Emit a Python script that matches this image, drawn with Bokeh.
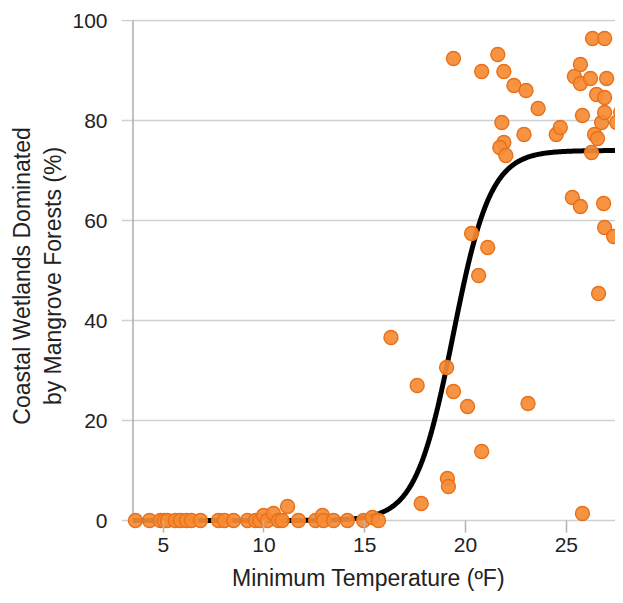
import numpy as np
from bokeh.plotting import figure
from bokeh.models import Range1d, FixedTicker, ColumnDataSource
from bokeh.embed import file_html
from bokeh.resources import INLINE

# ---- data ----
min_temp = [3.62, 4.32, 4.86, 5.05, 5.21, 5.6, 5.86, 6.15, 6.4, 6.85, 7.74, 8.04, 8.49,
            9.18, 9.58, 9.8, 9.98, 10.17, 10.47, 10.72, 10.9, 11.17, 11.71, 12.56, 12.90,
            12.95, 13.45, 14.14, 14.94, 15.38, 15.68,
            16.3, 17.6, 17.8, 19.06, 19.1, 19.15, 19.4, 19.4, 20.1, 20.3, 20.65, 20.8, 20.8,
            21.1, 21.6, 21.8, 21.9, 21.9, 21.7, 22.0, 22.4, 22.9, 23.0, 23.1, 23.6, 24.5,
            24.7, 25.3, 25.4, 25.7, 25.7, 25.7, 25.8, 25.8, 26.2, 26.25, 26.3, 26.4, 26.5,
            26.55, 26.6, 26.75, 26.85, 26.9, 26.9, 26.9, 26.9, 27.0, 27.35, 27.5, 27.7]
mangrove_pct = [0, 0, 0, 0, 0, 0, 0, 0, 0, 0, 0, 0, 0,
                0, 0, 0, 1.0, 0, 1.4, 0, 0, 2.8, 0, 0, 1.0,
                0, 0, 0, 0, 0.6, 0,
                36.6, 27, 3.4, 30.6, 8.4, 6.8, 25.8, 92.4, 22.8, 57.4, 49, 13.8, 89.8,
                54.6, 93.2, 79.6, 89.8, 75.6, 74.6, 73, 87, 77.2, 86, 23.4, 82.4, 77.2,
                78.6, 64.6, 88.8, 62.8, 91.2, 87.4, 81, 1.4, 88.4, 73.6, 96.4, 77.2, 85.2,
                76.4, 45.4, 79.6, 63.4, 96.4, 84.6, 81.6, 58.6, 88.4, 56.8, 79.6, 81.6]

# fitted logistic model parameters
fit_max = 74.0
fit_k = 1.077
fit_x0 = 19.38

x_ticks = [5, 10, 15, 20, 25]
y_ticks = [0, 20, 40, 60, 80, 100]

X_LO, X_HI = 2.93, 27.44
Y_LO, Y_HI = -2.4, 100.2
AXIS_X = 3.5

FONT = "Liberation Sans"

p = figure(width=615, height=595, output_backend="svg", toolbar_location=None,
           x_range=Range1d(X_LO, X_HI), y_range=Range1d(Y_LO, Y_HI),
           min_border_left=121, min_border_right=0, min_border_top=19, min_border_bottom=63)
p.outline_line_color = None
p.background_fill_color = "white"
p.border_fill_color = "white"

# grid
p.xgrid.grid_line_color = None
p.ygrid.grid_line_color = "#d0d0d0"
p.ygrid.grid_line_width = 1.6
p.ygrid.ticker = FixedTicker(ticks=y_ticks)

# x axis
xa = p.xaxis[0]
xa.ticker = FixedTicker(ticks=x_ticks)
xa.axis_line_color = None
xa.major_tick_in = 12
xa.major_tick_out = 0
xa.major_tick_line_color = "#b5b5b5"
xa.major_tick_line_width = 1.6
xa.minor_tick_line_color = None
xa.major_label_standoff = 5
xa.major_label_text_font = FONT
xa.major_label_text_font_size = "21px"
xa.major_label_text_color = "#222222"
xa.axis_label = "Minimum Temperature (ºF)"
xa.axis_label_text_font = FONT
xa.axis_label_text_font_size = "23px"
xa.axis_label_text_font_style = "normal"
xa.axis_label_text_color = "#222222"
xa.axis_label_standoff = 10

# y axis
ya = p.yaxis[0]
ya.ticker = FixedTicker(ticks=y_ticks)
ya.axis_line_color = None
ya.major_tick_line_color = None
ya.major_tick_out = 0
ya.major_tick_in = 0
ya.minor_tick_line_color = None
ya.major_label_standoff = 14
ya.major_label_text_font = FONT
ya.major_label_text_font_size = "21px"
ya.major_label_text_color = "#222222"
ya.axis_label = "Coastal Wetlands Dominated\nby Mangrove Forests (%)"
ya.axis_label_text_font = FONT
ya.axis_label_text_font_size = "23px"
ya.axis_label_text_font_style = "normal"
ya.axis_label_text_color = "#222222"
ya.axis_label_standoff = 3

# own y-axis line from 0 to 100
p.segment(x0=[AXIS_X], y0=[y_ticks[0]], x1=[AXIS_X], y1=[y_ticks[-1]],
          line_color="#b0b0b0", line_width=1.6)

# fitted curve
xs = np.linspace(AXIS_X, X_HI, 400)
ys = fit_max / (1.0 + np.exp(-fit_k * (xs - fit_x0)))
p.line(xs, ys, line_color="black", line_width=5)

# data points
src = ColumnDataSource(dict(x=min_temp, y=mangrove_pct))
p.scatter("x", "y", source=src, size=14, fill_color="#F68B33", fill_alpha=0.92,
          line_color="#E8701A", line_width=1.4)

open("out.html", "w").write(file_html(p, INLINE))
